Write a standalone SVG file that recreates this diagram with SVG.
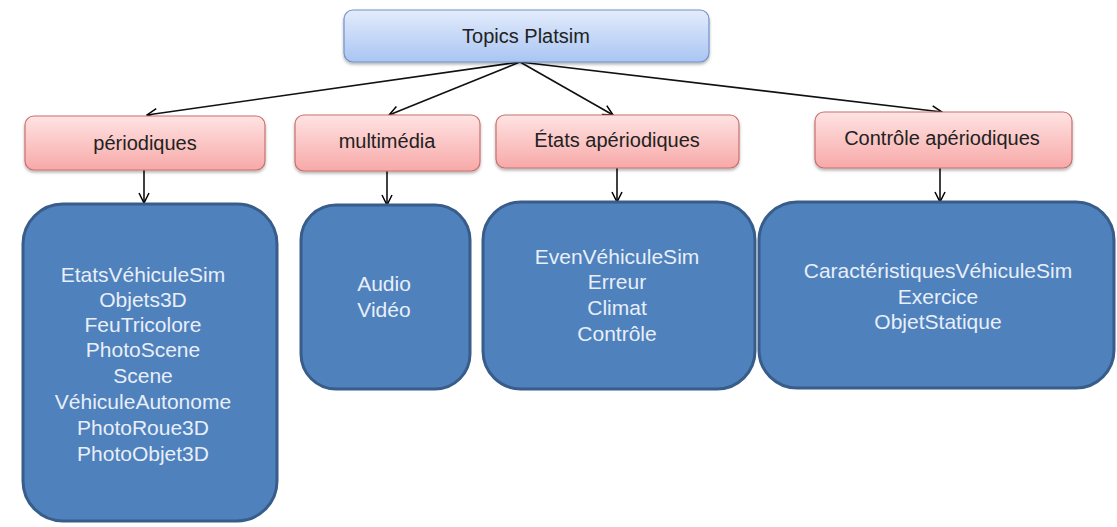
<svg xmlns="http://www.w3.org/2000/svg" width="1117" height="527" viewBox="0 0 1117 527">
<defs>
<linearGradient id="gTop" x1="0" y1="0" x2="0" y2="1">
<stop offset="0" stop-color="#E3ECFC"/>
<stop offset="1" stop-color="#A9C5F2"/>
</linearGradient>
<linearGradient id="gCat" x1="0" y1="0" x2="0" y2="1">
<stop offset="0" stop-color="#FFE3E3"/>
<stop offset="1" stop-color="#F7A9A8"/>
</linearGradient>
<filter id="sh" x="-10%" y="-10%" width="120%" height="140%">
<feDropShadow dx="0" dy="2" stdDeviation="1.5" flood-color="#000" flood-opacity="0.3"/>
</filter>
<marker id="arr" viewBox="0 0 12 12" refX="11" refY="6" markerWidth="12" markerHeight="12" markerUnits="userSpaceOnUse" orient="auto">
<path d="M1,1 L11,6 L1,11" fill="none" stroke="#000" stroke-width="1.5"/>
</marker>
<style>
.top{fill:url(#gTop);stroke:#7391C8;stroke-width:1.2}
.cat{fill:url(#gCat);stroke:#C9706E;stroke-width:1.2}
.blue{fill:#4F81BD;stroke:#385D8A;stroke-width:3}
.lbl{font-family:"Liberation Sans",Arial,sans-serif;font-size:20px;fill:#222;text-anchor:middle}
.wt{font-family:"Liberation Sans",Arial,sans-serif;font-size:21px;fill:#E8EFF8;text-anchor:middle}
.con{fill:none;stroke:#111;stroke-width:1.6;marker-end:url(#arr)}
</style>
</defs>
<g id="connectors">
<line class="con" x1="520" y1="62" x2="147" y2="115"/>
<line class="con" x1="520" y1="62" x2="389" y2="115"/>
<line class="con" x1="520" y1="62" x2="613" y2="115"/>
<line class="con" x1="520" y1="62" x2="942" y2="112"/>
<line class="con" x1="144" y1="170" x2="144" y2="203"/>
<line class="con" x1="387" y1="171" x2="387" y2="205"/>
<line class="con" x1="617" y1="168" x2="617" y2="202"/>
<line class="con" x1="940" y1="168" x2="940" y2="202"/>
</g>
<g id="n-topics">
<rect class="top" x="344" y="10" width="365" height="52" rx="9" filter="url(#sh)"/>
<text class="lbl" x="526" y="43">Topics Platsim</text>
</g>
<g id="n-periodiques">
<rect class="cat" x="25" y="116" width="240" height="54" rx="9" filter="url(#sh)"/>
<text class="lbl" x="145" y="150">périodiques</text>
</g>
<g id="n-multimedia">
<rect class="cat" x="295" y="115" width="185" height="56" rx="9" filter="url(#sh)"/>
<text class="lbl" x="387" y="148">multimédia</text>
</g>
<g id="n-etats">
<rect class="cat" x="496" y="115" width="243" height="53" rx="9" filter="url(#sh)"/>
<text class="lbl" x="617" y="147">États apériodiques</text>
</g>
<g id="n-controle">
<rect class="cat" x="815" y="112" width="257" height="56" rx="9" filter="url(#sh)"/>
<text class="lbl" x="942" y="145">Contrôle apériodiques</text>
</g>
<g id="b-periodiques">
<rect class="blue" x="23" y="204" width="254" height="317" rx="40"/>
<text class="wt" x="143" y="282">EtatsVéhiculeSim</text>
<text class="wt" x="143" y="307">Objets3D</text>
<text class="wt" x="143" y="332">FeuTricolore</text>
<text class="wt" x="143" y="357">PhotoScene</text>
<text class="wt" x="143" y="383">Scene</text>
<text class="wt" x="143" y="409">VéhiculeAutonome</text>
<text class="wt" x="143" y="435">PhotoRoue3D</text>
<text class="wt" x="143" y="461">PhotoObjet3D</text>
</g>
<g id="b-multimedia">
<rect class="blue" x="301" y="205" width="169" height="184" rx="35"/>
<text class="wt" x="384" y="291">Audio</text>
<text class="wt" x="384" y="317">Vidéo</text>
</g>
<g id="b-etats">
<rect class="blue" x="483" y="202" width="272" height="187" rx="38"/>
<text class="wt" x="617" y="264">EvenVéhiculeSim</text>
<text class="wt" x="617" y="289">Erreur</text>
<text class="wt" x="617" y="315">Climat</text>
<text class="wt" x="617" y="341">Contrôle</text>
</g>
<g id="b-controle">
<rect class="blue" x="759" y="202" width="355" height="186" rx="38"/>
<text class="wt" x="938" y="278">CaractéristiquesVéhiculeSim</text>
<text class="wt" x="938" y="304">Exercice</text>
<text class="wt" x="938" y="329">ObjetStatique</text>
</g>
</svg>
